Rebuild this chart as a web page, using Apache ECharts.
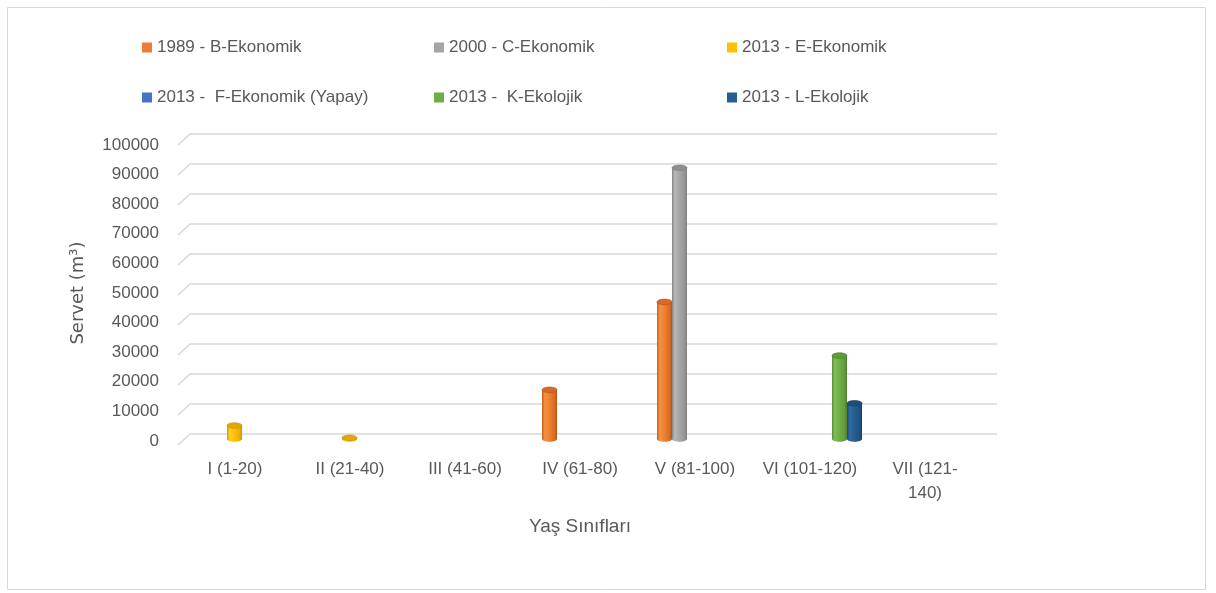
<!DOCTYPE html>
<html>
<head>
<meta charset="utf-8">
<script src="https://cdn.jsdelivr.net/npm/echarts@6/dist/echarts.min.js"></script>
<style>
html,body{margin:0;padding:0;background:#fff;}
#chart{width:1216px;height:593px;}
</style>
</head>
<body>
<div id="chart"></div>
<script>
// ---- data ----
const categories = ['I (1-20)', 'II (21-40)', 'III (41-60)', 'IV (61-80)', 'V (81-100)', 'VI (101-120)', 'VII (121-\n140)'];
const seriesNames = ['1989 - B-Ekonomik', '2000 - C-Ekonomik', '2013 - E-Ekonomik', '2013 -  F-Ekonomik (Yapay)', '2013 -  K-Ekolojik', '2013 - L-Ekolojik'];
const b1989 = [null, null, null, 16500, 46000, null, null];
const c2000 = [null, null, null, null, 91000, null, null];
const e2013 = [4500, 400, null, null, null, null, null];
const f2013 = [null, null, null, null, null, null, null];
const k2013 = [null, null, null, null, null, 28000, null];
const l2013 = [null, null, null, null, null, 12000, null];
const yTicks = [0, 10000, 20000, 30000, 40000, 50000, 60000, 70000, 80000, 90000, 100000];
const yAxisTitle = 'Servet (m³)';
const xAxisTitle = 'Yaş Sınıfları';

// ---- styling ----
const allValues = [b1989, c2000, e2013, f2013, k2013, l2013];
const baseColors = ['#ED7D31', '#A5A5A5', '#FFC000', '#4472C4', '#70AD47', '#255E91'];
const shades = [
  ['#c35e1c', '#f4913f', '#ee7f33', '#d86a22', '#b0531a', '#d8692a'],
  ['#858585', '#b8b8b8', '#a6a6a6', '#959595', '#7c7c7c', '#8e8e8e'],
  ['#d19c00', '#ffcd2a', '#ffc000', '#e8ae00', '#c49300', '#e0a800'],
  ['#3760a8', '#5482d4', '#4472C4', '#3a66b2', '#2f5596', '#3a64b0'],
  ['#5a8d37', '#7fbd55', '#70AD47', '#629a3c', '#4e7d2f', '#5f9a3a'],
  ['#1c4a73', '#2f6ca3', '#255E91', '#1f5281', '#173f63', '#1d4d7a']
];
const FONT = '"Liberation Sans", Arial, sans-serif';
const TXT = '#595959';
const BW = 15;

const chart = echarts.init(document.getElementById('chart'), null, {renderer: 'canvas'});

function grad(s) {
  return new echarts.graphic.LinearGradient(0, 0, 1, 0, [
    {offset: 0, color: s[0]},
    {offset: 0.18, color: s[1]},
    {offset: 0.5, color: s[2]},
    {offset: 0.85, color: s[3]},
    {offset: 1, color: s[4]}
  ]);
}

const series = [];
// back wall gridlines with left-wall tails
series.push({
  type: 'custom',
  xAxisIndex: 1, yAxisIndex: 1,
  silent: true, z: 0,
  data: yTicks.map(v => [v]),
  renderItem: function (params, api) {
    const v = api.value(0);
    const p0 = api.coord([0, v]);
    const p1 = api.coord([1, v]);
    return {
      type: 'polyline',
      shape: {points: [[p0[0] - 12, p0[1] + 11], p0, p1]},
      style: {stroke: '#d9d9d9', lineWidth: 1.6, fill: null}
    };
  }
});

allValues.forEach((vals, si) => {
  series.push({
    name: seriesNames[si],
    type: 'bar',
    xAxisIndex: 0, yAxisIndex: 0,
    barWidth: BW,
    barGap: '0%',
    z: 2,
    itemStyle: {color: grad(shades[si])},
    data: vals
  });
});
allValues.forEach((vals, si) => {
  const pts = [];
  vals.forEach((v, i) => { if (v != null) pts.push([i, v]); });
  series.push({
    name: seriesNames[si],
    type: 'custom',
    xAxisIndex: 0, yAxisIndex: 0,
    z: 3, silent: true,
    itemStyle: {color: baseColors[si]},
    data: pts,
    renderItem: function (params, api) {
      const top = api.coord([api.value(0), api.value(1)]);
      const base = api.coord([api.value(0), 0]);
      const cx = top[0] + (si - 2.5) * BW;
      const rx = BW / 2, ry = 2.8;
      return {
        type: 'group',
        children: [
          {type: 'ellipse', shape: {cx: cx, cy: base[1], rx: rx, ry: ry},
           style: {fill: grad(shades[si])}},
          {type: 'ellipse', shape: {cx: cx, cy: top[1], rx: rx, ry: ry},
           style: {fill: shades[si][5], stroke: shades[si][4], lineWidth: 0.6}}
        ]
      };
    }
  });
});

const legendPos = [[142, 39], [434, 39], [727, 39], [142, 89], [434, 89], [727, 89]];
const legends = seriesNames.map((n, i) => ({
  data: [{name: n, icon: 'rect', itemStyle: {color: baseColors[i]}}],
  left: legendPos[i][0], top: legendPos[i][1],
  padding: 0,
  itemWidth: 10, itemHeight: 10,
  textStyle: {fontFamily: FONT, fontSize: 17, color: TXT},
  selectedMode: false
}));

chart.setOption({
  animation: false,
  backgroundColor: '#fff',
  textStyle: {fontFamily: FONT},
  graphic: [{
    type: 'rect', silent: true, z: -1,
    shape: {x: 7.5, y: 7.5, width: 1198, height: 582},
    style: {fill: null, stroke: '#d9d9d9', lineWidth: 1}
  }],
  legend: legends,
  grid: [
    {left: 184.5, right: 226.5, top: 141, bottom: 154},
    {left: 190, right: 219, top: 134, bottom: 159},
    {left: 177, right: 219, top: 145, bottom: 152}
  ],
  xAxis: [
    {
      type: 'category', gridIndex: 0, data: categories,
      axisLine: {show: false}, axisTick: {show: false},
      axisLabel: {
        margin: 18, fontFamily: FONT, fontSize: 17, color: TXT, lineHeight: 24,
        interval: 0, padding: [0, 14, 0, 0]
      },
      name: xAxisTitle, nameLocation: 'middle', nameGap: 78,
      nameTextStyle: {fontFamily: FONT, fontSize: 19, color: TXT, padding: [0, 14, 0, 0]}
    },
    {type: 'value', gridIndex: 1, min: 0, max: 1, show: false},
    {type: 'value', gridIndex: 2, min: 0, max: 1, show: false}
  ],
  yAxis: [
    {type: 'value', gridIndex: 0, min: 0, max: 100000, interval: 10000, show: false},
    {type: 'value', gridIndex: 1, min: 0, max: 100000, interval: 10000, show: false},
    {
      type: 'value', gridIndex: 2, min: 0, max: 100000, interval: 10000,
      axisLine: {show: false}, axisTick: {show: false}, splitLine: {show: false},
      axisLabel: {margin: 18, fontFamily: FONT, fontSize: 17, color: TXT,
        formatter: function (v) { return String(v); }},
      name: yAxisTitle, nameLocation: 'middle', nameGap: 90, nameRotate: 90,
      nameTextStyle: {fontFamily: '"DejaVu Sans", sans-serif', fontSize: 18, color: TXT}
    }
  ],
  series: series
});
</script>
</body>
</html>
